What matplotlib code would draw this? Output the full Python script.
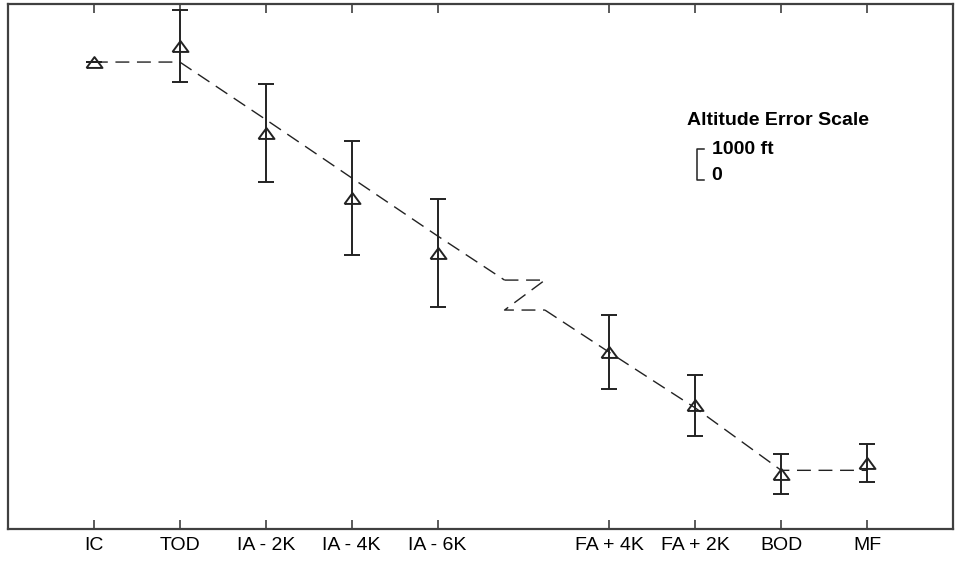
import numpy as np
import matplotlib
matplotlib.use('Agg')
import matplotlib.pyplot as plt

plt.rcParams['font.family'] = ['Liberation Sans', 'DejaVu Sans']

# ── Data ─────────────────────────────────────────────────────────────────────
labels = ['IC', 'TOD', 'IA - 2K', 'IA - 4K', 'IA - 6K',
          'FA + 4K', 'FA + 2K', 'BOD', 'MF']
xpos   = [1, 2, 3, 4, 5, 7, 8, 9, 10]          # gap at 6 = profile break

# mean altitude (ft) and error (ft) at each fix
alt_mean = [15130, 15640, 12820, 10730, 8940, 5730, 4010, 1780, 2140]
alt_err  = [0, 1170, 1590, 1850, 1740, 1210, 990, 650, 620]

# planned descent profile, split by the "Z" break
plan_x_a = [1, 2, 3, 4, 5, 5.78]
plan_y_a = [15120, 15120, 13260, 11370, 9490, 8060]
brk_x    = [5.78, 6.25, 5.78, 6.25]
brk_y    = [8060, 8060, 7090, 7090]
plan_x_b = [6.25, 7, 8, 9, 10]
plan_y_b = [7090, 5720, 3920, 1900, 1900]

SCALE_FT = 1000
FG = '#222222'

fig = plt.figure(figsize=(9.6, 5.61), dpi=100)
ax = fig.add_axes([8/960, 1 - 529/561, 945/960, 525/561])

tri = [(-1, -0.68), (1, -0.68), (0, 0.68), (-1, -0.68)]
ax.errorbar(xpos, alt_mean, yerr=alt_err, fmt='none', ecolor=FG,
            elinewidth=1.4, capsize=5.8, capthick=1.4, zorder=2)
ax.plot(xpos, alt_mean, ls='none', marker=tri, ms=11.5, mfc='none',
        mec=FG, mew=1.4, zorder=3)

dash = dict(color=FG, lw=1.0, dashes=(10, 5.5), zorder=4)
ax.plot(plan_x_a, plan_y_a, **dash)
ax.plot(brk_x, brk_y, **dash)
ax.plot(plan_x_b, plan_y_b, **dash)

# altitude error scale bar
sx, sy = 8.02, 11300
ax.text(7.90, 13240, 'Altitude Error Scale', fontsize=14, fontweight='bold',
        ha='left', va='center')
ax.plot([sx + 0.08, sx, sx, sx + 0.08], [sy, sy, sy + SCALE_FT, sy + SCALE_FT],
        color=FG, lw=1.1)
ax.text(sx + 0.17, sy + SCALE_FT - 20, '1000 ft', fontsize=14,
        fontweight='bold', ha='left', va='center')
ax.text(sx + 0.17, sy + 150, '0', fontsize=14, fontweight='bold',
        ha='left', va='center')

ax.set_xlim(0, 11)
ax.set_ylim(0, 17000)
ax.set_xticks(xpos)
ax.set_xticklabels(labels, fontsize=14)
ax.set_yticks([])
ax.tick_params(axis='x', direction='in', top=True, length=6.5, width=1.2,
               color='#404040', pad=6)
for sp in ax.spines.values():
    sp.set_color('#404040')
    sp.set_linewidth(1.6)

fig.savefig('out.png', dpi=100)
